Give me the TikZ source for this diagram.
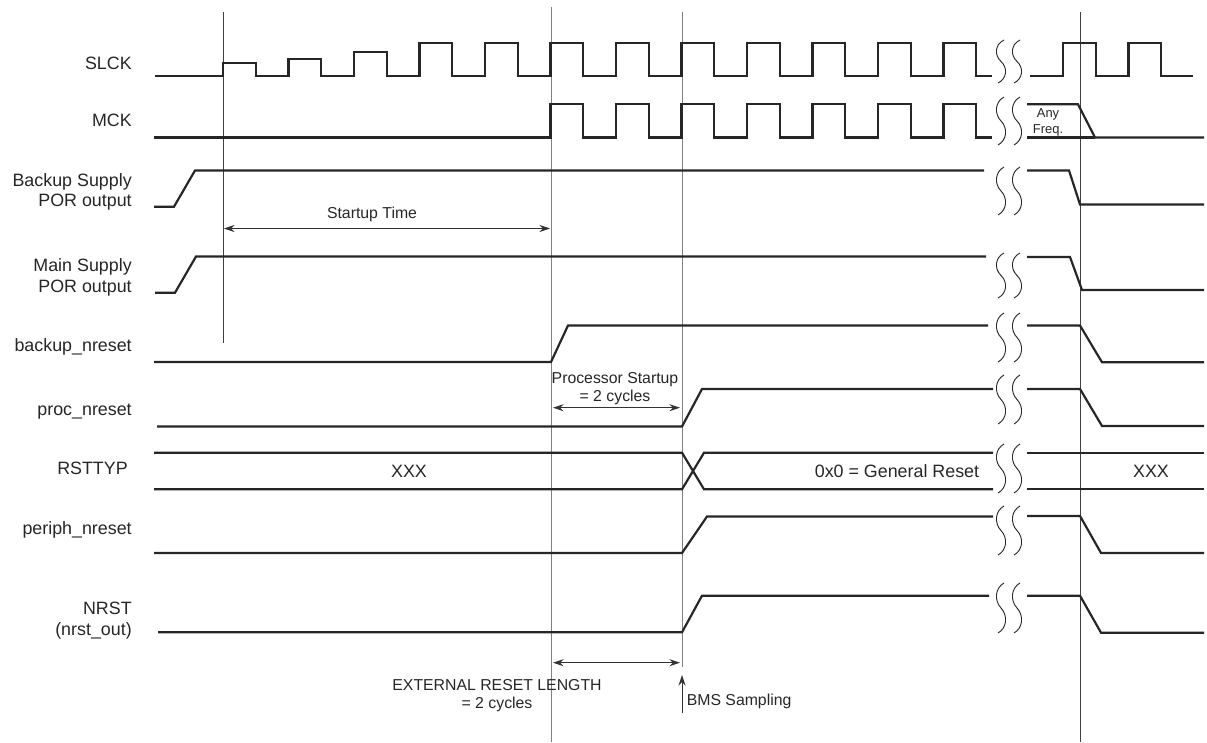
\documentclass[tikz,border=0pt]{standalone}
\usepackage{fontspec}
\setmainfont{Liberation Sans}
\usepackage{tikz}
\usetikzlibrary{arrows.meta}

\begin{document}
\begin{tikzpicture}[x=0.025cm,y=-0.025cm,
  sig/.style={line width=1.55pt,black!85},
  tline/.style={line width=0.7pt,black!50},
  dim/.style={{Stealth[length=7.5pt,width=5pt]}-{Stealth[length=7.5pt,width=5pt]},line width=0.65pt,black!80},
  brk/.style={line width=0.65pt,black!85},
  lbl/.style={font=\fontsize{12.7}{14.7}\selectfont,inner sep=0pt,align=right,text=black!85},
  val/.style={font=\fontsize{12.7}{14.7}\selectfont,inner sep=0pt,anchor=base,text=black!85},
  note/.style={font=\fontsize{11.25}{13.2}\selectfont,inner sep=0pt,align=center,text=black!85}]
  \useasboundingbox (0,0) rectangle (1207,742);
  % time markers
  \draw[tline,black!75] (223,12) -- (223,343);
  \draw[tline] (551,7) -- (551,742);
  \draw[tline] (682,12) -- (682,667);
  \draw[tline,black!75] (1080,12) -- (1080,742);
  % signal names
  \node[lbl,anchor=base east] (slck) at (132,69.3) {SLCK};
  \node[lbl,anchor=base east] (mck) at (132,126) {MCK};
  \node[lbl,anchor=east] (bpor) at (132,192) {Backup Supply\\POR output};
  \node[lbl,anchor=east] (mpor) at (132,277.4) {Main Supply\\POR output};
  \node[lbl,anchor=base east] (bkrst) at (132,351.7) {backup\_nreset};
  \node[lbl,anchor=base east] (procrst) at (132,415) {proc\_nreset};
  \node[lbl,anchor=base east] (rsttyp) at (128,474) {RSTTYP};
  \node[lbl,anchor=base east] (perrst) at (132,534) {periph\_nreset};
  \node[lbl,anchor=east] (nrst) at (132,620.5) {NRST\\(nrst\_out)};
  % SLCK, slow start then full swing
  \draw[sig] (155,76) \foreach \k/\h in {0/63.3,1/59.3,2/51.7,3/43.3,4/43.3,5/43.3,6/43.3,7/43.3,8/43.3,9/43.3,10/43.3,11/43.3}
    { -- ({223+65.5*\k},76) -- ({223+65.5*\k},\h) -- ({255.8+65.5*\k},\h) -- ({255.8+65.5*\k},76) } -- (992,76);
  \draw[sig] (1030,76) -- (1063,76) -- (1063,43.3) -- (1096,43.3) -- (1096,76) -- (1128.5,76)
    -- (1128.5,43.3) -- (1161,43.3) -- (1161,76) -- (1193,76);
  % MCK
  \draw[sig] (154,137.5) \foreach \k in {5,...,11}
    { -- ({223+65.5*\k},137.5) -- ({223+65.5*\k},104.3) -- ({255.8+65.5*\k},104.3) -- ({255.8+65.5*\k},137.5) } -- (992,137.5);
  \draw[sig] (1027,104.3) -- (1078,104.3) -- (1095,137.5) -- (1204,137.5);
  \draw[sig] (1027,137.5) -- (1095,137.5);
  \node[note,font=\fontsize{9.2}{11.4}\selectfont] (anyf) at (1048,122) {Any\\Freq.};
  % POR outputs
  \draw[sig] (154,206.7) -- (174,206.7) -- (195,170.5) -- (984,170.5);
  \draw[sig] (1027,170.5) -- (1069,170.5) -- (1080,204.5) -- (1204,204.5);
  \draw[sig] (155,292.7) -- (175,292.7) -- (196,256.5) -- (986,256.5);
  \draw[sig] (1027,257) -- (1070,257) -- (1082,290) -- (1204,290);
  % startup time
  \coordinate (st0) at (224,228.5);
  \coordinate (st1) at (550,228.5);
  \draw[dim] (st0) -- (st1);
  \node[note,anchor=base] (startup) at (372,218) {Startup Time};
  % backup_nreset
  \draw[sig] (154,362) -- (551,362) -- (568,325.5) -- (988,325.5);
  \draw[sig] (1027,325.5) -- (1080,325.5) -- (1102,362.3) -- (1204,362.3);
  % proc_nreset
  \draw[sig] (157,426.5) -- (682,426.5) -- (702,389) -- (993,389);
  \draw[sig] (1027,389) -- (1080,389) -- (1102,426) -- (1204,426);
  \coordinate (ps0) at (553,407.7);
  \coordinate (ps1) at (680,407.7);
  \draw[dim] (ps0) -- (ps1);
  \node[note,anchor=south] (procstart) at (615,405.5) {Processor Startup\\= 2 cycles};
  % RSTTYP bus
  \draw[sig] (154,452.7) -- (682,452.7) -- (704,489.3) -- (993,489.3);
  \draw[sig] (154,489.3) -- (682,489.3) -- (704,452.7) -- (993,452.7);
  \draw[sig] (1027,452.7) -- (1204,452.7);
  \draw[sig] (1027,489.3) -- (1204,489.3);
  \node[val] (xxxA) at (409,477.3) {XXX};
  \node[val] (gen) at (897,477.3) {0x0 = General Reset};
  \node[val] (xxxB) at (1151,477.3) {XXX};
  % periph_nreset
  \draw[sig] (154,553) -- (682,553) -- (707,516.5) -- (993,516.5);
  \draw[sig] (1027,516) -- (1080,516) -- (1101,553) -- (1204,553);
  % NRST
  \draw[sig] (158,632.3) -- (682,632.3) -- (702,595.7) -- (989,595.7);
  \draw[sig] (1027,595.7) -- (1080,595.7) -- (1101,632.7) -- (1204,632.7);
  % external reset length and BMS sampling
  \coordinate (er0) at (553,662.7);
  \coordinate (er1) at (680,662.7);
  \draw[dim] (er0) -- (er1);
  \node[note,anchor=north] (extrst) at (497,679) {EXTERNAL RESET LENGTH\\= 2 cycles};
  \coordinate (bms0) at (682,713);
  \coordinate (bms1) at (682,675);
  \draw[-{Stealth[length=7.5pt,width=5pt]},line width=0.65pt,black!80] (bms0) -- (bms1);
  \node[note,anchor=base west] (bms) at (686.5,705.7) {BMS Sampling};
  % time breaks
  \foreach \t/\b in {40/83,97/145,167/215,253/298,313/362,375/424,444/493,506/555,583/633}
    \foreach \x in {1001,1017}
      \draw[brk] ({\x+3},\t) .. controls ({\x-6},{\t+0.1*(\b-\t)}) and ({\x-7},{\t+0.35*(\b-\t)}) .. (\x,{(\t+\b)/2})
        .. controls ({\x+7},{\t+0.65*(\b-\t)}) and ({\x+6},{\t+0.9*(\b-\t)}) .. ({\x-3},\b);
\end{tikzpicture}
\end{document}
